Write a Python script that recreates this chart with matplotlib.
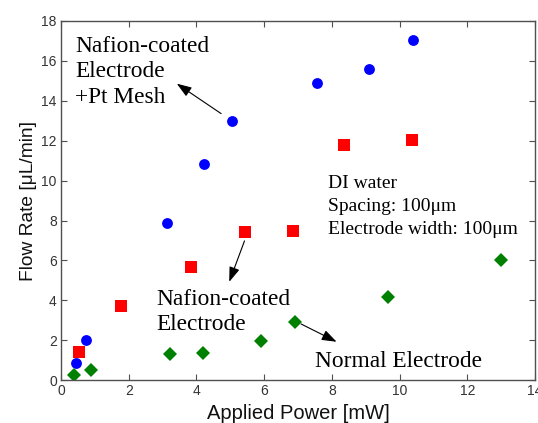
import matplotlib
matplotlib.use("Agg")
import matplotlib.pyplot as plt

# Data
pt_x = [0.44, 0.74, 3.13, 4.22, 5.06, 7.57, 9.11, 10.40]
pt_y = [0.87, 2.02, 7.88, 10.83, 12.96, 14.90, 15.58, 17.05]

naf_x = [0.52, 1.78, 3.84, 5.42, 6.84, 8.35, 10.38]
naf_y = [1.41, 3.73, 5.68, 7.43, 7.48, 11.80, 12.01]

norm_x = [0.39, 0.90, 3.23, 4.19, 5.91, 6.90, 9.67, 12.99]
norm_y = [0.27, 0.53, 1.33, 1.38, 1.97, 2.92, 4.18, 6.02]

xticks = [0, 2, 4, 6, 8, 10, 12, 14]
yticks = [0, 2, 4, 6, 8, 10, 12, 14, 16, 18]

fig = plt.figure(figsize=(5.38, 4.23), dpi=100)
ax = fig.add_axes([0.1134, 0.1009, 0.8810, 0.8501])

ax.plot(pt_x, pt_y, 'o', color='#0000ff', markersize=7.8, markeredgewidth=0)
ax.plot(naf_x, naf_y, 's', color='#ff0000', markersize=8, markeredgewidth=0)
ax.plot(norm_x, norm_y, 'D', color='#008000', markersize=7.3, markeredgewidth=0)

ax.set_xlim(0, 14)
ax.set_ylim(0, 18)
ax.set_xticks(xticks)
ax.set_yticks(yticks)

spine_c = '#505050'
for s in ax.spines.values():
    s.set_color(spine_c)
    s.set_linewidth(1.0)
ax.tick_params(direction='in', length=4, width=0.8, colors=spine_c,
               top=True, right=True, labelsize=10, labelcolor='#333333', pad=3)
for lab in ax.get_xticklabels() + ax.get_yticklabels():
    lab.set_family('Liberation Sans')

ax.set_xlabel('Applied Power [mW]', fontsize=14.5, family='Liberation Sans',
              color='#111111', labelpad=4)
ax.set_ylabel('Flow Rate [μL/min]', fontsize=13.8, family='Liberation Sans',
              color='#111111', labelpad=3)

serif = 'Liberation Serif'
big = 16.8
ax.text(0.42, 16.42, 'Nafion-coated', fontsize=big, family=serif, va='baseline')
ax.text(0.42, 15.17, 'Electrode', fontsize=big, family=serif, va='baseline')
ax.text(0.42, 13.87, '+Pt Mesh', fontsize=big, family=serif, va='baseline')
ax.text(2.83, 3.76, 'Nafion-coated', fontsize=big, family=serif, va='baseline')
ax.text(2.83, 2.52, 'Electrode', fontsize=big, family=serif, va='baseline')
ax.text(7.50, 0.68, 'Normal Electrode', fontsize=big, family=serif, va='baseline')

small = 14
ax.text(7.89, 9.63, 'DI water', fontsize=small, family=serif, va='baseline')
ax.text(7.89, 8.48, 'Spacing: 100μm', fontsize=small, family=serif, va='baseline')
ax.text(7.89, 7.30, 'Electrode width: 100μm', fontsize=small, family=serif, va='baseline')

arrow = dict(arrowstyle='-|>,head_length=0.9,head_width=0.32', color='black',
             lw=0.8, shrinkA=0, shrinkB=0)
ax.annotate('', xy=(3.42, 14.85), xytext=(4.73, 13.35), arrowprops=arrow)
ax.annotate('', xy=(4.97, 4.93), xytext=(5.42, 6.98), arrowprops=arrow)
ax.annotate('', xy=(8.14, 1.93), xytext=(7.09, 2.82), arrowprops=arrow)

fig.savefig('out.png', dpi=100)
